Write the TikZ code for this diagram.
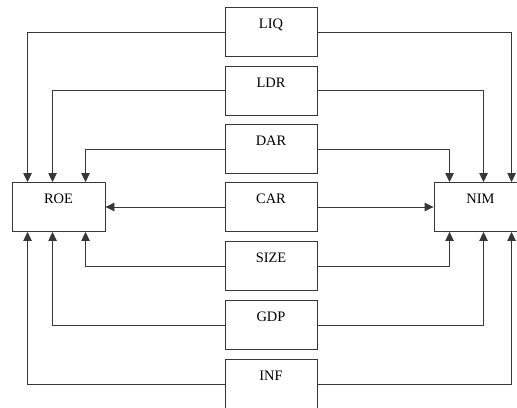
\documentclass[tikz,border=0pt]{standalone}
\usepackage{fontspec}
\setmainfont{Liberation Serif}
\usetikzlibrary{arrows.meta}
\definecolor{edge}{RGB}{55,55,55}
\tikzset{
  varbox/.style={draw=edge, line width=0.9bp, rectangle, minimum width=92bp,
    minimum height=49bp, inner sep=0pt, text height=10bp, text depth=17bp,
    font=\fontsize{14.5}{16}\selectfont},
  link/.style={draw=edge, line width=0.9bp, -{Triangle[length=9bp,width=8.5bp]}},
}
\begin{document}
\begin{tikzpicture}[x=1bp,y=-1bp]
  \useasboundingbox (0,0) rectangle (517,407);
  \clip (0,0) rectangle (517,407);
  % determinants in the middle column
  \node[varbox] (liq)  at (271,32)    {LIQ};
  \node[varbox] (ldr)  at (271,90.6)  {LDR};
  \node[varbox] (dar)  at (271,149.2) {DAR};
  \node[varbox] (car)  at (271,207)   {CAR};
  \node[varbox] (size) at (271,266)   {SIZE};
  \node[varbox] (gdp)  at (271,325)   {GDP};
  \node[varbox] (inf)  at (271,384)   {INF};
  % outcome variables
  \node[varbox, minimum width=93bp] (roe) at (58.5,207) {ROE};
  \node[varbox, minimum width=93bp] (nim) at (480.5,207) {NIM};
  % links into ROE
  \draw[link] (liq.west)  -| ([xshift=16bp]roe.north west);
  \draw[link] (ldr.west)  -| ([xshift=41bp]roe.north west);
  \draw[link] (dar.west)  -| ([xshift=74bp]roe.north west);
  \draw[link] (car.west)  -- (roe.east);
  \draw[link] (size.west) -| ([xshift=74bp]roe.south west);
  \draw[link] (gdp.west)  -| ([xshift=41bp]roe.south west);
  \draw[link] (inf.west)  -| ([xshift=16bp]roe.south west);
  % links into NIM
  \draw[link] (liq.east)  -| ([xshift=78bp]nim.north west);
  \draw[link] (ldr.east)  -| ([xshift=50bp]nim.north west);
  \draw[link] (dar.east)  -| ([xshift=16bp]nim.north west);
  \draw[link] (car.east)  -- (nim.west);
  \draw[link] (size.east) -| ([xshift=16bp]nim.south west);
  \draw[link] (gdp.east)  -| ([xshift=50bp]nim.south west);
  \draw[link] (inf.east)  -| ([xshift=78bp]nim.south west);
\end{tikzpicture}
\end{document}
